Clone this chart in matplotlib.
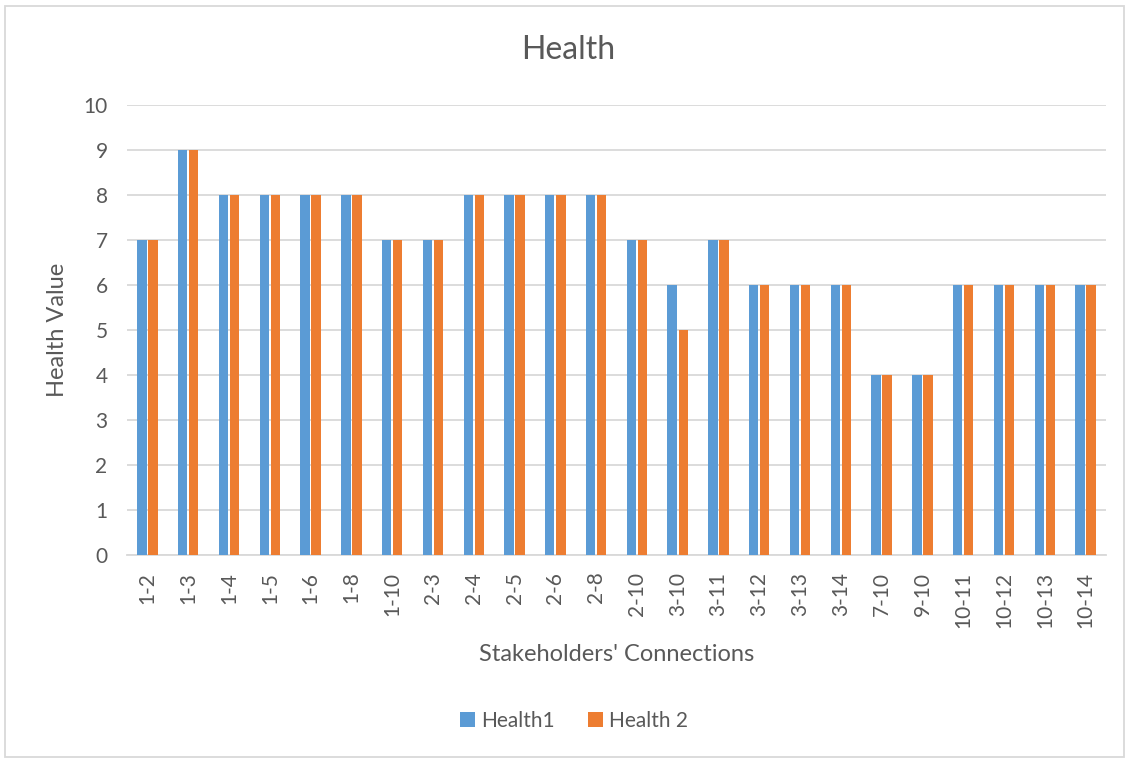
import numpy as np
import matplotlib.pyplot as plt
from matplotlib.patches import Rectangle

connections = ['1-2', '1-3', '1-4', '1-5', '1-6', '1-8', '1-10', '2-3', '2-4', '2-5',
               '2-6', '2-8', '2-10', '3-10', '3-11', '3-12', '3-13', '3-14', '7-10',
               '9-10', '10-11', '10-12', '10-13', '10-14']
health1 = [7, 9, 8, 8, 8, 8, 7, 7, 8, 8, 8, 8, 7, 6, 7, 6, 6, 6, 4, 4, 6, 6, 6, 6]
health2 = [7, 9, 8, 8, 8, 8, 7, 7, 8, 8, 8, 8, 7, 5, 7, 6, 6, 6, 4, 4, 6, 6, 6, 6]

blue = '#5b9bd5'
orange = '#ed7d31'
text_col = '#595959'
grid_col = '#d9d9d9'

plt.rcParams['font.family'] = ['Lato', 'DejaVu Sans']

fig = plt.figure(figsize=(11.26, 7.59), dpi=100)
ax = fig.add_axes([127 / 1126, 1 - 555 / 759, (1106 - 127) / 1126, 450 / 759])

x = np.arange(len(connections))
w = 0.23
ax.bar(x - 0.135, health1, w, color=blue, label='Health1', zorder=3)
ax.bar(x + 0.135, health2, w, color=orange, label='Health 2', zorder=3)

ax.set_xlim(-0.5, len(connections) - 0.5)
ax.set_ylim(0, 10)
ax.set_yticks(range(0, 11))
ax.yaxis.grid(True, color=grid_col, lw=1.3, zorder=0)
ax.set_axisbelow(True)
for s in ['top', 'right', 'left']:
    ax.spines[s].set_visible(False)
ax.spines['bottom'].set_color(grid_col)
ax.spines['bottom'].set_linewidth(1.3)
ax.tick_params(axis='both', length=0, labelsize=15, colors=text_col)
ax.tick_params(axis='y', pad=14)
ax.tick_params(axis='x', pad=12)
ax.set_xticks(x)
ax.set_xticklabels(connections, rotation=90)

ax.set_ylabel('Health Value', fontsize=17, color=text_col, labelpad=11)
ax.set_xlabel("Stakeholders' Connections", fontsize=17, color=text_col, labelpad=12)
fig.text(0.505, 1 - 50 / 759, 'Health', fontsize=23, color=text_col, ha='center', va='center')

fig.legend(loc='center', bbox_to_anchor=(0.51, 1 - 721 / 759), ncol=2, frameon=False,
           fontsize=15, labelcolor=text_col, handlelength=0.7, handleheight=0.7,
           handletextpad=0.3, columnspacing=1.6)

# outer chart border
fig.add_artist(Rectangle((5 / 1126, 2 / 759), 1119 / 1126, 751 / 759,
                         transform=fig.transFigure, fill=False, edgecolor=grid_col, lw=1.3))

fig.savefig('out.png', dpi=100, facecolor='white')
